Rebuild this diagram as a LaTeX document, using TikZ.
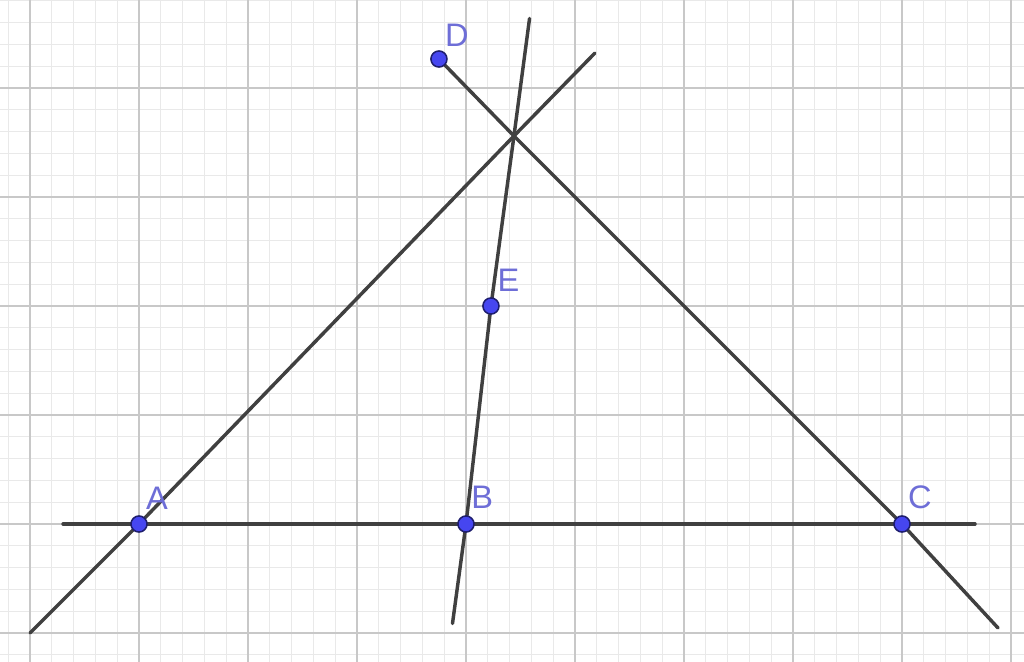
\documentclass[tikz,border=0pt]{standalone}
\usepackage{fontspec}
\setmainfont{Liberation Sans}
\usetikzlibrary{calc}
\definecolor{minorgrid}{RGB}{233,233,233}
\definecolor{majorgrid}{RGB}{200,200,200}
\definecolor{linecol}{RGB}{64,64,64}
\definecolor{ptfill}{RGB}{70,70,240}
\definecolor{ptdraw}{RGB}{30,30,110}
\definecolor{lblcol}{RGB}{110,110,215}
\begin{document}
\begin{tikzpicture}[
  geoline/.style={draw=linecol, line width=0.9pt, line cap=round},
  pt/.style={circle, fill=ptfill, draw=ptdraw, line width=0.4pt, inner sep=0pt, minimum size=4.2pt},
  lbl/.style={text=lblcol, font=\fontsize{8.5}{9}\selectfont, inner sep=0pt}
]
\useasboundingbox (-1.2752,-1.2569) rectangle (8.1193,4.8073);
\fill[white] (-1.2752,-1.2569) rectangle (8.1193,4.8073);
\draw[minorgrid, line width=0.35pt, step=0.2] (-1.4,-1.4) grid (8.2,4.9);
\draw[majorgrid, line width=0.5pt, step=1] (-2,-2) grid (9,5);

% points
\coordinate (A) at (0,0);
\coordinate (B) at (3,0);
\coordinate (C) at (7,0);
\coordinate (D) at (2.752,4.266);
\coordinate (E) at (3.229,2.0);
\coordinate (X) at (3.44,3.56);
% free ends of lines
\coordinate (H1) at (-0.697,0);
\coordinate (H2) at (7.670,0);
\coordinate (L1) at (-1,-1);
\coordinate (L2) at (4.183,4.321);
\coordinate (M1) at (2.876,-0.913);
\coordinate (M2) at (3.583,4.638);
\coordinate (N2) at (7.881,-0.954);

\draw[geoline] (H1) -- (H2);
\draw[geoline] (L1) -- (A) -- (X) -- (L2);
\draw[geoline] (M1) -- (B) -- (E) -- (X) -- (M2);
\draw[geoline] (D) -- (X) -- (C) -- (N2);

\node[pt] (pA) at (A) {};
\node[pt] (pB) at (B) {};
\node[pt] (pC) at (C) {};
\node[pt] (pD) at (D) {};
\node[pt] (pE) at (E) {};

\node[lbl] (tA) at ($(A)+(0.165,0.232)$) {A};
\node[lbl] (tB) at ($(B)+(0.150,0.245)$) {B};
\node[lbl] (tC) at ($(C)+(0.165,0.245)$) {C};
\node[lbl] (tD) at ($(D)+(0.165,0.222)$) {D};
\node[lbl] (tE) at ($(E)+(0.160,0.235)$) {E};
\end{tikzpicture}
\end{document}
